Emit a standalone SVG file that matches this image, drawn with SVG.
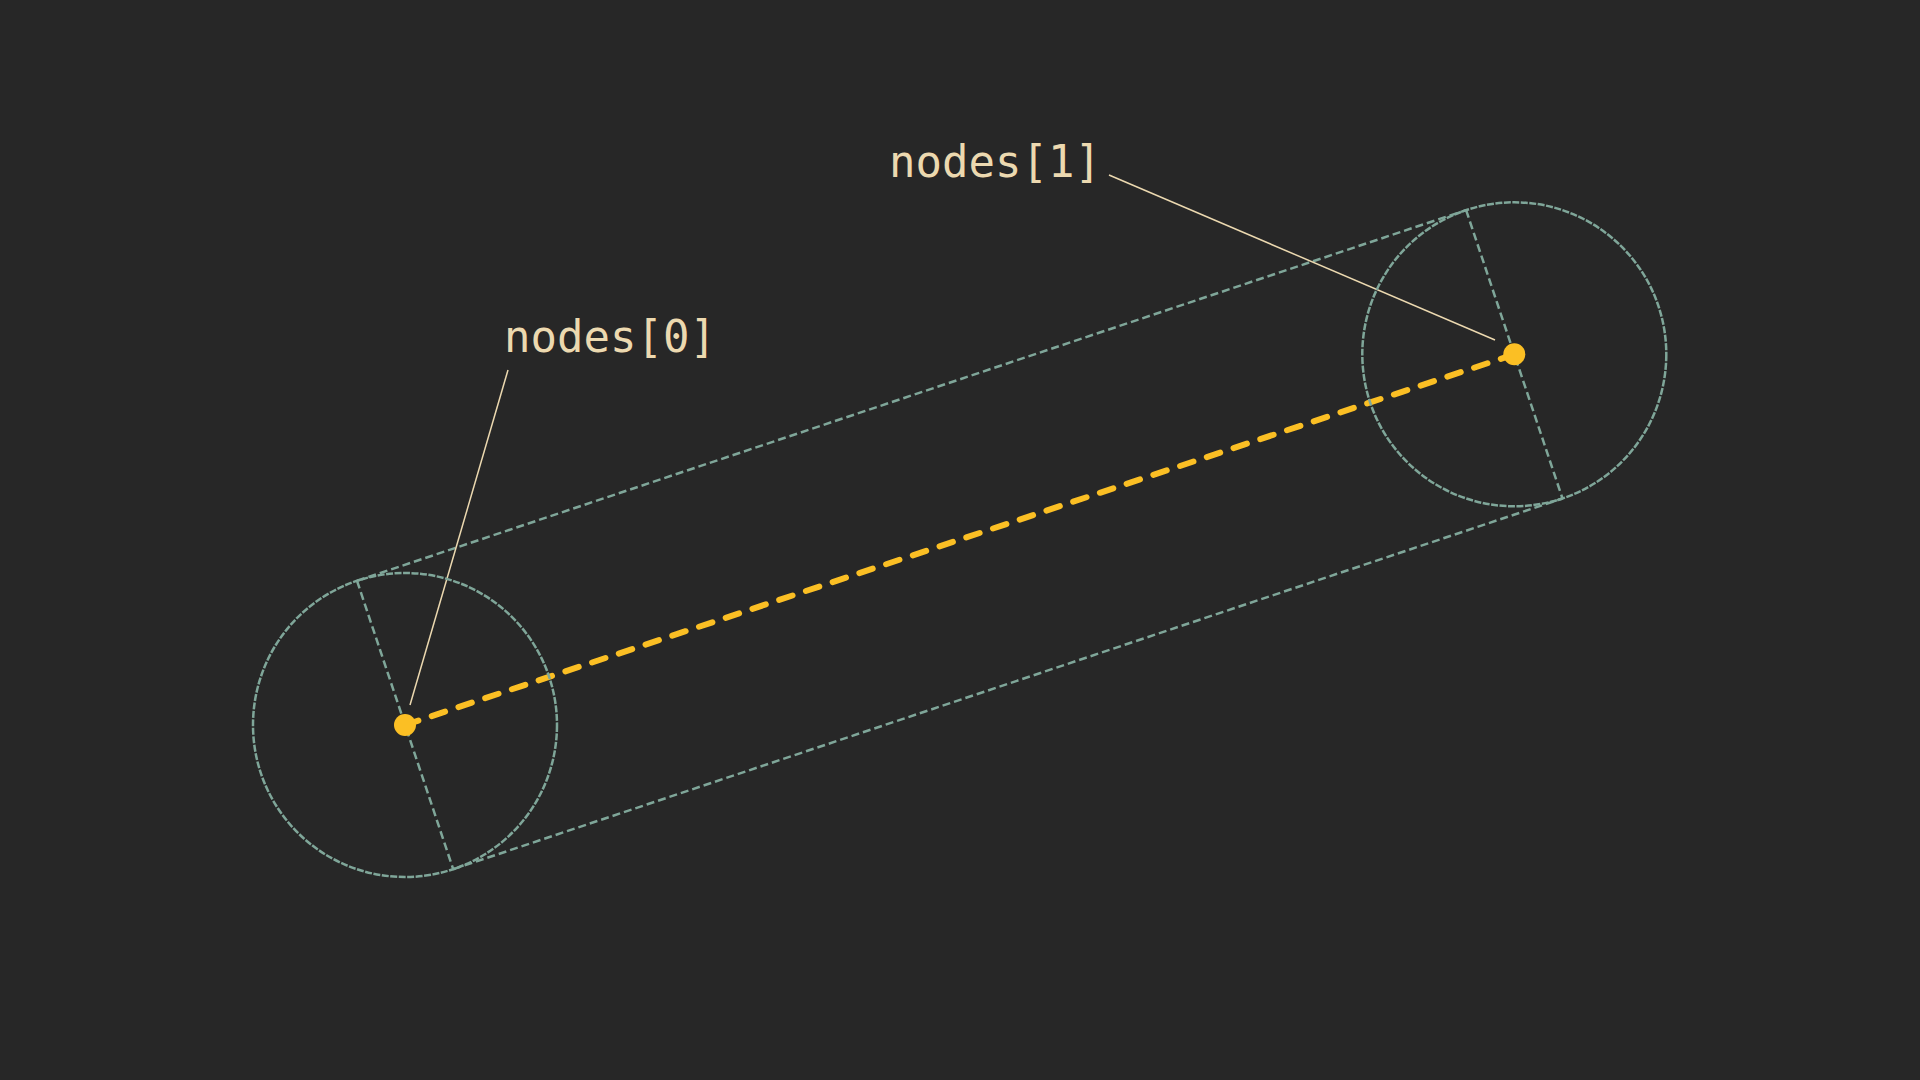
<svg xmlns="http://www.w3.org/2000/svg" width="1920" height="1080" viewBox="0 0 1920 1080">
<style>
.guide{fill:none;stroke:#7fa699;stroke-width:2.5;stroke-dasharray:8 4}
.ring{fill:none;stroke:#7fa699;stroke-width:2.5;stroke-dasharray:7 1.5}
.dot{fill:#fbbf24}
.leader{stroke:#ecd9b0;stroke-width:1.5;fill:none}
.label{fill:#ecd9b0;font-family:"DejaVu Sans Mono","Liberation Mono",monospace;font-size:44px}
.link{stroke:#fbbf24;stroke-width:6;stroke-linecap:round;stroke-dasharray:14.09 14.09;fill:none}
</style>
<rect width="1920" height="1080" fill="#272727"/>
<g id="connectors">
<line class="guide" x1="357" y1="580.8" x2="1466.1" y2="210.1"/>
<line class="guide" x1="453.2" y1="869.2" x2="1562.5" y2="498.5"/>
<line class="guide" x1="357" y1="580.8" x2="453.2" y2="869.2"/>
<line class="guide" x1="1466.1" y1="210.1" x2="1562.5" y2="498.5"/>
<line class="link" x1="405" y1="725" x2="1514.3" y2="354.3"/>
<line class="leader" x1="508" y1="370" x2="410" y2="705"/>
<line class="leader" x1="1109" y1="175" x2="1495" y2="340"/>
</g>
<g id="node0">
<circle class="ring" cx="405" cy="725" r="152"/>
<circle class="dot" cx="405" cy="725" r="11"/>
<text class="label" x="504" y="352">nodes[0]</text>
</g>
<g id="node1">
<circle class="ring" cx="1514.3" cy="354.3" r="152"/>
<circle class="dot" cx="1514.3" cy="354.3" r="11"/>
<text class="label" x="889" y="177">nodes[1]</text>
</g>
</svg>
